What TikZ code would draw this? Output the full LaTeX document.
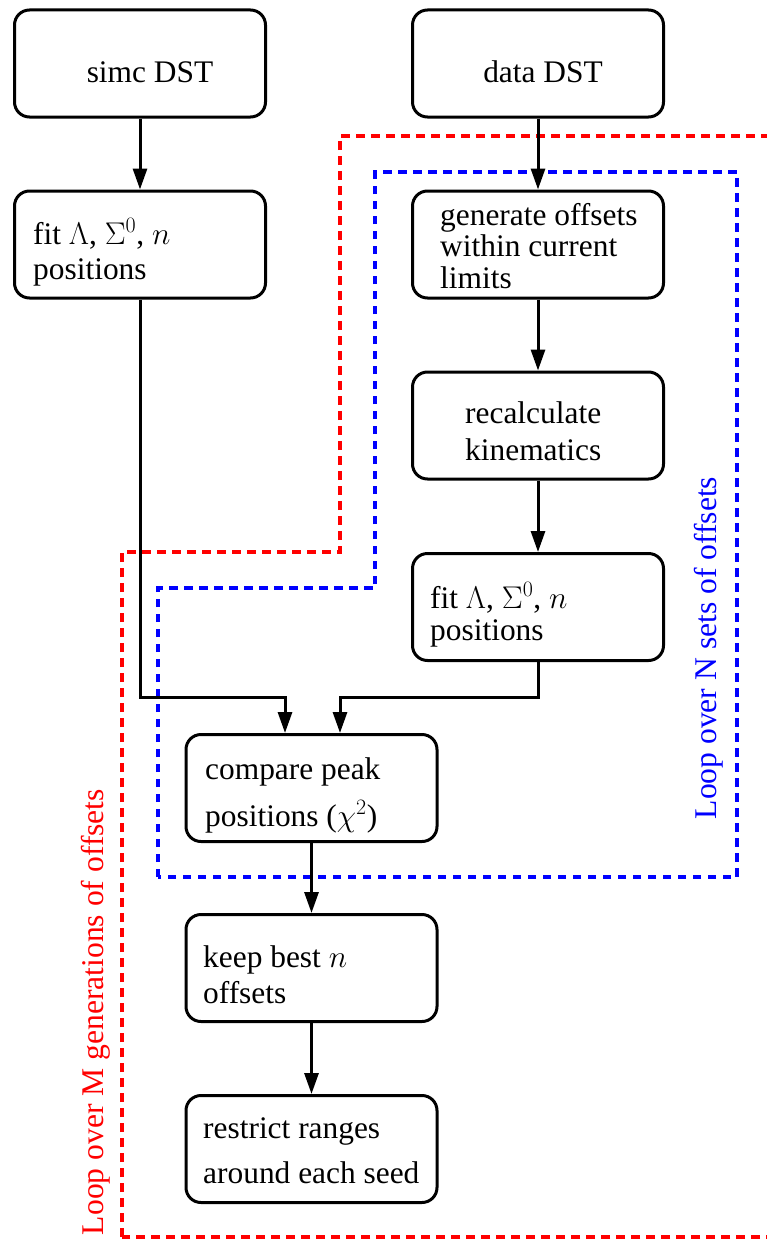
\documentclass[tikz,border=0pt]{standalone}
\usepackage{fix-cm}
\usepackage{fontspec}
\setmainfont{Liberation Serif}
\usetikzlibrary{arrows.meta}
\begin{document}
\begin{tikzpicture}[x=1pt,y=-1pt,
  box/.style={draw, line width=3pt, rounded corners=15pt, fill=white,
    minimum width=251pt, minimum height=107pt, inner sep=0pt},
  txt/.style={inner sep=0pt, align=left, font=\fontsize{31.4}{#1}\selectfont},
  txt/.default=32,
  arr/.style={line width=3pt, -{Triangle[length=21pt,width=14pt]}},
  loopM/.style={draw=red, line width=3.5pt, dash pattern=on 9pt off 6pt},
  loopN/.style={draw=blue, line width=3.5pt, dash pattern=on 8.5pt off 6.5pt},
  looplabel/.style={inner sep=0pt, rotate=90, font=\fontsize{31.6}{32}\selectfont}]
\useasboundingbox (0,0) rectangle (767,1239);

% outer loop over generations (red) and inner loop over offset sets (blue)
\draw[loopM] (122,1237) -- (122,552) -- (340,552) -- (340,136) -- (780,136)
  -- (780,1237) -- cycle;
\draw[loopN] (158,877) -- (158,588) -- (375,588) -- (375,172) -- (737,172)
  -- (737,877) -- cycle;
\node[looplabel, text=red] (loopMlbl) at (96,1012) {Loop over M generations of offsets};
\node[looplabel, text=blue] (loopNlbl) at (709,648) {Loop over N sets of offsets};

% process boxes
\node[box] (simc)   at (140,63.5)  {};
\node[box] (fitL)   at (140,244.5) {};
\node[box] (data)   at (538,63.5)  {};
\node[box] (gen)    at (538,244.5) {};
\node[box] (recalc) at (538,425.5) {};
\node[box] (fitR)   at (538,607)   {};
\node[box] (cmp)    at (311.5,788) {};
\node[box] (keep)   at (311.5,968) {};
\node[box] (restr)  at (311.5,1149){};

% box texts (the base anchor sits on the last line)
\node[txt, anchor=base] (simcT) at (150,82) {simc DST};
\node[txt, anchor=base] (dataT) at (543,82) {data DST};
\node[txt=35, anchor=base west] (fitLT) at (33,279) {fit $\Lambda$, $\Sigma^0$, $n$\\positions};
\node[txt=31.5, anchor=base west] (genT) at (440,288) {generate offsets\\within current\\limits};
\node[txt=37, anchor=base west] (recalcT) at (465,460) {recalculate\\kinematics};
\node[txt=32, anchor=base west] (fitRT) at (430,640) {fit $\Lambda$, $\Sigma^0$, $n$\\positions};
\node[txt=47, anchor=base west] (cmpT) at (205,826) {compare peak\\positions ($\chi^2$)};
\node[txt=36, anchor=base west] (keepT) at (203,1003) {keep best $n$\\offsets};
\node[txt=45, anchor=base west] (restrT) at (203,1183) {restrict ranges\\around each seed};

% connectors
\coordinate (join) at (0,697);
\draw[arr] (simc) -- (fitL);
\draw[arr] (data) -- (gen);
\draw[arr] (gen) -- (recalc);
\draw[arr] (recalc) -- (fitR);
\draw[arr] (fitL.south) -- (fitL.south |- join) -| ([xshift=-26.5pt]cmp.north);
\draw[arr] (fitR.south) -- (fitR.south |- join) -| ([xshift=28.5pt]cmp.north);
\draw[arr] (cmp) -- (keep);
\draw[arr] (keep) -- (restr);
\end{tikzpicture}
\end{document}
